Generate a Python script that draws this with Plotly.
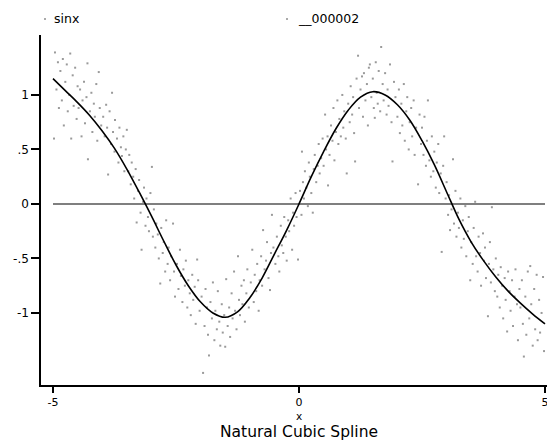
import plotly.graph_objects as go

# ---- scatter data (noisy sin x) ----
sx_x = [
 -4.98,-4.96,-4.93,-4.9,-4.88,-4.85,-4.82,-4.8,-4.78,-4.75,-4.72,-4.7,-4.67,-4.65,-4.63,-4.6,-4.58,-4.55,-4.52,-4.5,
 -4.48,-4.45,-4.42,-4.4,-4.37,-4.35,-4.32,-4.3,-4.29,-4.25,-4.22,-4.2,-4.17,-4.15,-4.12,-4.1,-4.07,-4.05,-4.02,
 -3.98,-3.95,-3.92,-3.9,-3.88,-3.85,-3.82,-3.8,-3.78,-3.75,-3.74,-3.7,-3.67,-3.65,-3.62,-3.6,-3.57,-3.55,-3.52,
 -3.5,-3.47,-3.45,-3.42,-3.4,-3.37,-3.35,-3.32,-3.3,-3.27,-3.25,-3.22,-3.2,-3.17,-3.15,-3.12,-3.1,-3.07,-3.05,-3.02,-2.99,
 -2.97,-2.95,-2.92,-2.9,-2.87,-2.85,-2.82,-2.8,-2.77,-2.75,-2.72,-2.7,-2.67,-2.65,-2.62,-2.6,-2.56,-2.54,-2.52,
 -2.48,-2.45,-2.42,-2.4,-2.37,-2.35,-2.32,-2.3,-2.27,-2.25,-2.22,-2.2,-2.17,-2.15,-2.12,-2.1,-2.07,-2.05,-2.02,
 -1.98,-1.95,-1.92,-1.9,-1.87,-1.85,-1.83,-1.8,-1.77,-1.75,-1.72,-1.7,-1.67,-1.65,-1.62,-1.6,-1.57,-1.55,-1.52,-1.5,
 -1.48,-1.45,-1.42,-1.4,-1.37,-1.35,-1.32,-1.3,-1.27,-1.24,-1.22,-1.2,-1.17,-1.15,-1.12,-1.1,-1.07,-1.05,-1.02,
 -0.98,-0.95,-0.92,-0.9,-0.87,-0.85,-0.82,-0.8,-0.77,-0.75,-0.73,-0.7,-0.67,-0.65,-0.62,-0.59,-0.57,-0.55,-0.52,
 -0.48,-0.45,-0.42,-0.4,-0.37,-0.35,-0.32,-0.3,-0.27,-0.25,-0.22,-0.2,-0.17,-0.14,-0.12,-0.1,-0.07,-0.05,-0.02,
 0.02,0.05,0.06,0.08,0.1,0.12,0.15,0.18,0.2,0.22,0.25,0.28,0.3,0.32,0.35,0.38,0.4,0.42,0.45,0.48,
 0.5,0.53,0.55,0.58,0.59,0.62,0.65,0.68,0.7,0.72,0.75,0.78,0.8,0.82,0.85,0.88,0.9,0.92,0.95,0.97,
 1.0,1.03,1.05,1.08,1.1,1.12,1.14,1.17,1.2,1.22,1.25,1.28,1.3,1.32,1.35,1.38,1.4,1.42,1.44,1.47,
 1.5,1.52,1.54,1.56,1.58,1.6,1.62,1.65,1.67,1.7,1.72,1.75,1.78,1.8,1.82,1.85,1.88,1.9,1.93,1.96,
 2.0,2.03,2.05,2.08,2.1,2.13,2.15,2.18,2.2,2.23,2.25,2.28,2.3,2.33,2.35,2.38,2.42,2.45,2.48,
 2.5,2.53,2.55,2.58,2.6,2.62,2.65,2.68,2.7,2.73,2.75,2.78,2.8,2.83,2.85,2.88,2.9,2.93,2.95,2.98,
 3.0,3.03,3.05,3.07,3.1,3.13,3.15,3.18,3.2,3.23,3.25,3.28,3.3,3.33,3.35,3.38,3.4,3.43,3.45,3.48,
 3.5,3.53,3.55,3.58,3.6,3.63,3.65,3.68,3.7,3.74,3.76,3.78,3.8,3.84,3.86,3.88,3.9,3.92,3.95,3.98,
 4.0,4.03,4.05,4.08,4.1,4.13,4.15,4.18,4.2,4.23,4.25,4.28,4.3,4.33,4.35,4.38,4.4,4.43,4.45,4.48,
 4.5,4.53,4.55,4.57,4.6,4.62,4.65,4.68,4.7,4.72,4.75,4.78,4.8,4.83,4.85,4.88,4.9,4.93,4.96,4.98,
]
sx_y = [
 0.60,1.39,1.05,1.30,0.88,1.22,0.95,1.33,0.72,1.12,1.28,0.85,1.00,1.38,0.60,1.18,0.90,1.25,0.78,1.08,
 0.88,1.05,0.62,0.95,1.12,0.74,0.98,1.29,0.41,0.85,1.02,0.66,0.92,0.80,1.10,0.58,1.21,0.88,0.72,
 0.80,0.62,0.91,0.70,0.27,0.85,0.55,1.02,0.66,0.48,0.77,0.60,0.38,0.70,0.52,0.44,0.62,0.30,0.50,
 0.68,0.30,0.45,0.18,0.38,0.25,0.05,0.32,-0.17,0.12,0.22,-0.08,-0.42,0.02,0.15,-0.20,0.05,-0.12,-0.25,0.10,0.34,
 -0.30,-0.05,-0.40,-0.18,-0.28,-0.50,-0.73,-0.22,-0.45,-0.35,-0.62,-0.15,-0.55,-0.40,-0.70,-0.48,-0.18,-0.62,-0.85,
 -0.55,-0.78,-0.42,-0.66,-0.90,-0.60,-0.75,-0.52,-0.95,-0.70,-0.82,-1.02,-0.65,-0.88,-0.76,-1.10,-0.51,-0.70,-0.98,
 -0.85,-1.55,-1.12,-0.78,-0.95,-1.20,-1.39,-0.90,-1.05,-0.72,-1.25,-0.98,-1.15,-0.80,-1.08,-1.30,-0.92,-1.18,-1.02,-1.31,
 -0.69,-1.12,-0.95,-1.22,-0.82,-1.05,-0.62,-0.98,-1.15,-0.48,-0.88,-1.02,-0.75,-0.92,-0.70,-1.08,-0.82,-0.60,-0.95,
 -0.72,-0.42,-0.90,-0.65,-0.80,-0.55,-0.98,-0.70,-0.48,-0.75,-0.24,-0.60,-0.52,-0.35,-0.68,-0.79,-0.45,-0.10,-0.40,
 -0.55,-0.30,-0.48,-0.62,-0.20,-0.38,-0.45,-0.12,-0.30,-0.52,-0.15,-0.25,0.05,-0.42,-0.08,-0.20,0.10,-0.12,-0.51,
 0.12,-0.10,0.48,0.20,0.05,0.30,0.15,-0.02,0.38,0.25,0.10,-0.08,0.32,0.45,0.20,0.35,0.55,0.28,0.42,0.60,
 0.35,0.82,0.50,0.62,0.17,0.45,0.72,0.58,0.88,0.40,0.66,0.95,0.55,0.78,0.62,1.00,0.70,0.85,0.60,0.28,
 0.92,0.75,1.08,0.82,0.98,0.65,0.39,1.15,1.36,0.88,1.05,1.17,0.80,1.20,0.95,1.10,0.72,1.25,1.28,0.98,
 1.15,0.88,0.79,1.30,1.02,0.92,1.22,0.85,1.44,1.10,0.95,1.20,0.82,1.05,0.90,1.28,0.75,0.39,1.12,0.98,
 0.80,1.05,0.65,0.92,0.72,1.10,0.58,0.85,0.98,0.50,0.75,0.88,0.62,0.95,0.45,0.70,0.18,0.82,0.55,
 0.70,0.45,0.80,0.35,0.58,0.95,0.40,0.25,0.62,0.30,0.48,0.15,0.38,0.55,0.10,0.28,-0.44,0.35,0.62,0.05,
 0.20,-0.10,0.08,-0.24,-0.05,0.41,-0.18,0.12,-0.30,-0.08,-0.22,0.05,-0.40,-0.15,-0.32,-0.02,-0.48,-0.25,-0.12,-0.70,
 -0.35,-0.55,-0.22,0.02,-0.48,-0.62,-0.30,-0.45,-0.75,-0.27,-0.52,-0.40,-0.68,-1.03,-0.55,-0.35,-0.72,-0.03,-0.60,-0.80,
 -0.50,-0.85,-0.65,-0.95,-0.58,-0.75,-1.05,-0.68,-0.88,-1.17,-0.62,-0.80,-0.98,-0.70,-1.12,-0.85,-0.60,-0.92,-1.25,-0.78,
 -0.95,-0.70,-1.10,-1.40,-0.85,-1.20,-0.62,-1.05,-0.57,-0.92,-1.30,-0.78,-1.15,-0.65,-1.25,-0.88,-1.18,-1.00,-0.67,-1.35,
]

# ---- natural cubic spline fit (__000002) ----
sp_x = [-5, -4.75, -4.5, -4.25, -4, -3.75, -3.5, -3.25, -3, -2.75, -2.5, -2.25, -2, -1.75, -1.5,
        -1.25, -1, -0.75, -0.5, -0.25, 0, 0.25, 0.5, 0.75, 1, 1.25, 1.5, 1.75, 2, 2.25, 2.5,
        2.75, 3, 3.25, 3.5, 3.75, 4, 4.25, 4.5, 4.75, 5]
sp_y = [1.15, 1.04, 0.93, 0.81, 0.67, 0.51, 0.32, 0.11, -0.11, -0.34, -0.56, -0.75, -0.90, -1.00, -1.04,
        -0.99, -0.86, -0.68, -0.46, -0.24, 0.0, 0.25, 0.48, 0.69, 0.86, 0.98, 1.03, 1.00, 0.91, 0.77, 0.58,
        0.36, 0.11, -0.14, -0.35, -0.52, -0.67, -0.80, -0.91, -1.01, -1.10]

xtick_vals = [-5, 0, 5]
xtick_text = ["-5", "0", "5"]
ytick_vals = [1, 0.5, 0, -0.5, -1]
ytick_text = ["1", ".5", "0", "-.5", "-1"]
legend_names = ["sinx", "__000002"]

FONT = "DejaVu Sans, Liberation Sans, Arial, sans-serif"

# the page body adds an 8px offset; work in page pixels and subtract it
OFF = 8
W, H = 555 - OFF, 443 - OFF
L, R, T, B = 41 - OFF, 555 - OFF, 35 - OFF, 385 - OFF
PW, PH = R - L, B - T

def px(xpix):
    return (xpix - OFF - L) / PW

def py(ypix):
    return (B - (ypix - OFF)) / PH

fig = go.Figure()
fig.add_trace(go.Scatter(x=sx_x, y=sx_y, mode="markers", name=legend_names[0],
                         marker=dict(size=2, color="#9a9a9a", symbol="square", line=dict(width=0)),
                         showlegend=False))
fig.add_trace(go.Scatter(x=sp_x, y=sp_y, mode="lines", name=legend_names[1],
                         line=dict(color="black", width=1.6, shape="spline", smoothing=1.0),
                         showlegend=False))

fig.update_layout(
    width=W, height=H,
    margin=dict(l=L, r=W - R, t=T, b=H - B, autoexpand=False),
    paper_bgcolor="white", plot_bgcolor="white",
    font=dict(family=FONT, size=12, color="black"),
    xaxis=dict(range=[-5.244, 5.203], tickvals=xtick_vals, ticktext=xtick_text,
               showgrid=False, zeroline=False, showline=True, linecolor="black", linewidth=1.5,
               ticks="outside", ticklen=6, tickwidth=1.5, tickcolor="black",
               tickfont=dict(size=11, family=FONT), automargin=False),
    yaxis=dict(range=[-1.661, 1.550], tickvals=ytick_vals, ticktext=ytick_text,
               showgrid=False, zeroline=False, showline=True, linecolor="black", linewidth=1.5,
               ticks="outside", ticklen=8, tickwidth=1.5, tickcolor="black",
               tickfont=dict(size=12, family=FONT), automargin=False),
    showlegend=False,
    annotations=[
        dict(text=legend_names[0], xref="paper", yref="paper", x=px(52), y=py(19),
             xanchor="left", yanchor="middle", showarrow=False, font=dict(size=12.5, family=FONT)),
        dict(text=legend_names[1], xref="paper", yref="paper", x=px(296), y=py(19),
             xanchor="left", yanchor="middle", showarrow=False, font=dict(size=12.5, family=FONT)),
        dict(text="x", xref="paper", yref="paper", x=px(299), y=py(415.5),
             xanchor="center", yanchor="middle", showarrow=False, font=dict(size=10.5, family=FONT)),
        dict(text="Natural Cubic Spline", xref="paper", yref="paper", x=px(299), y=py(432),
             xanchor="center", yanchor="middle", showarrow=False, font=dict(size=15.5, family=FONT)),
    ],
    shapes=[
        dict(type="line", xref="x", yref="y", x0=-5, x1=5, y0=0, y1=0,
             line=dict(color="#555555", width=1.6), layer="below"),
        dict(type="rect", xref="paper", yref="paper",
             x0=px(44), x1=px(46), y0=py(20), y1=py(18),
             fillcolor="#aaaaaa", line=dict(width=0)),
        dict(type="rect", xref="paper", yref="paper",
             x0=px(286), x1=px(288), y0=py(20), y1=py(18),
             fillcolor="#aaaaaa", line=dict(width=0)),
    ],
)

fig.write_html("out.html")
